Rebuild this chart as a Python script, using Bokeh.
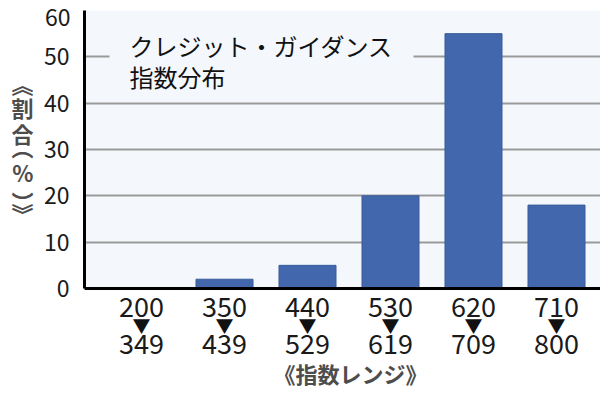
from bokeh.plotting import figure
from bokeh.models import Range1d, FixedTicker, Label, LinearAxis
from bokeh.embed import file_html
from bokeh.resources import INLINE

# ---- data ----
range_low = ["200", "350", "440", "530", "620", "710"]
range_high = ["349", "439", "529", "619", "709", "800"]
shares = [0, 2, 5, 20, 55, 18]
y_ticks = [0, 10, 20, 30, 40, 50, 60]
title_text = "クレジット・ガイダンス\n指数分布"
x_title = "《指数レンジ》"
y_title_chars = ["︽", "割", "合", "︵", "%", "︶", "︾"]

# ---- layout constants (pixels of the 600x397 canvas) ----
FRAME_L, FRAME_R, FRAME_T, FRAME_B = 84, 600, 10, 288
PX_PER_X = 83.0
PX_PER_Y = (FRAME_B - FRAME_T) / 60.0
C0 = 141.0  # pixel centre of first category
JP = "Noto Sans CJK JP"
BG = "#f4f8fd"


def dx(px):
    return (px - C0) / PX_PER_X


def dy(py):
    return (FRAME_B - py) / PX_PER_Y


xs = list(range(len(shares)))

p = figure(width=600, height=397, output_backend="svg", toolbar_location=None,
           x_range=Range1d(dx(FRAME_L), dx(FRAME_R)), y_range=Range1d(0, 60),
           min_border_left=FRAME_L, min_border_right=0, min_border_top=FRAME_T,
           min_border_bottom=397 - FRAME_B)
p.extra_x_ranges = {"px": Range1d(FRAME_L, FRAME_R)}
p.extra_y_ranges = {"py": Range1d(FRAME_B, FRAME_T)}
p.background_fill_color = BG
p.border_fill_color = "white"
p.outline_line_color = None

p.vbar(x=xs, top=shares, width=0.687, fill_color="#4267ac",
       line_color="#3a5c9c", line_width=1)

p.xgrid.visible = False
p.ygrid.ticker = FixedTicker(ticks=y_ticks[1:])
p.ygrid.grid_line_color = "#9a9a9a"
p.ygrid.grid_line_width = 2


def plain(ax):
    ax.major_tick_line_color = None
    ax.minor_tick_line_color = None
    ax.major_tick_out = 0
    ax.minor_tick_out = 0
    ax.major_tick_in = 0
    ax.minor_tick_in = 0


def style_num(ax, size):
    ax.major_label_text_font = JP
    ax.major_label_text_font_size = size
    ax.major_label_text_color = "#1a1a1a"


# main y axis (0..50; the top label sits a little lower, as in the original)
ya = p.yaxis[0]
plain(ya)
ya.ticker = FixedTicker(ticks=y_ticks[:-1])
ya.axis_line_color = "black"
ya.axis_line_width = 3
ya.major_label_standoff = 15
style_num(ya, "23px")

Y60 = FRAME_T + 7
y60 = LinearAxis(y_range_name="py", ticker=FixedTicker(ticks=[Y60]),
                 major_label_overrides={Y60: str(y_ticks[-1])})
plain(y60)
y60.axis_line_color = None
y60.major_label_standoff = -30
style_num(y60, "23px")
p.add_layout(y60, "left")

# y title as upright vertical characters (positions allow for the
# vertical-form brackets sitting off-centre in their cells)
y_pos = [82.5, 106, 132, 145, 171.5, 200, 212.5]
yt = LinearAxis(y_range_name="py", ticker=FixedTicker(ticks=y_pos),
                major_label_overrides={py: ch for py, ch in zip(y_pos, y_title_chars)})
plain(yt)
yt.axis_line_color = None
yt.major_label_standoff = 7
yt.major_label_text_font = JP
yt.major_label_text_font_size = "22px"
yt.major_label_text_font_style = "bold"
yt.major_label_text_color = "#4d4d4d"
p.add_layout(yt, "left")

# x axis: three stacked rows (low value, arrow, high value)
xa = p.xaxis[0]
plain(xa)
xa.ticker = FixedTicker(ticks=xs)
xa.major_label_overrides = {i: s for i, s in enumerate(range_low)}
xa.axis_line_color = "black"
xa.axis_line_width = 3
xa.major_label_standoff = 8
style_num(xa, "27px")

xarrow = LinearAxis(ticker=FixedTicker(ticks=xs),
                    major_label_overrides={i: "▼" for i in xs})
plain(xarrow)
xarrow.axis_line_color = None
xarrow.major_label_standoff = -8
xarrow.major_label_text_font = JP
xarrow.major_label_text_font_size = "18px"
xarrow.major_label_text_color = "#111111"
p.add_layout(xarrow, "below")

xhigh = LinearAxis(ticker=FixedTicker(ticks=xs),
                   major_label_overrides={i: s for i, s in enumerate(range_high)})
plain(xhigh)
xhigh.axis_line_color = None
xhigh.major_label_standoff = -7
style_num(xhigh, "27px")
p.add_layout(xhigh, "below")

xtitle = LinearAxis(x_range_name="px", ticker=FixedTicker(ticks=[350]),
                    major_label_overrides={350: x_title})
plain(xtitle)
xtitle.axis_line_color = None
xtitle.major_label_standoff = 0
xtitle.major_label_text_font = JP
xtitle.major_label_text_font_size = "22px"
xtitle.major_label_text_font_style = "bold"
xtitle.major_label_text_color = "#4d4d4d"
p.add_layout(xtitle, "below")

# chart title inside the plot (box covers the grid lines behind it)
p.add_layout(Label(x=dx(109), y=dy(23), text=title_text,
                   text_align="left", text_baseline="top", text_font=JP,
                   text_font_size="24px", text_color="#111111",
                   text_line_height=0.9, background_fill_color=BG,
                   padding=(20, 4)))

open("out.html", "w").write(file_html(p, INLINE))
